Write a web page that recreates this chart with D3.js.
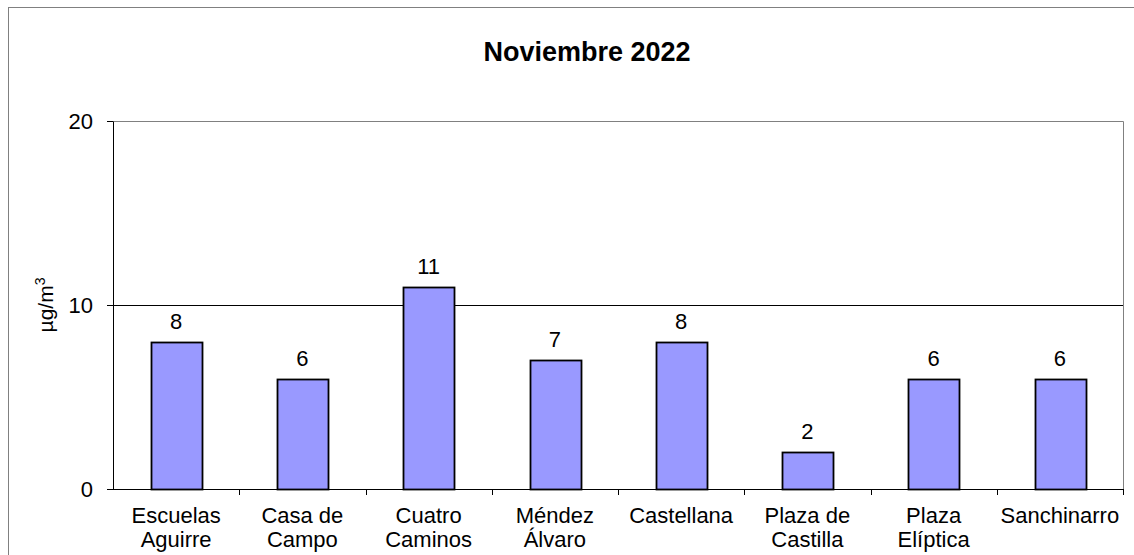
<!DOCTYPE html>
<html>
<head>
<style>
  body { margin: 0; background: #fff; }
  text { font-family: Arial, "Liberation Sans", sans-serif; fill: #000; }
</style>
</head>
<body>
<svg id="chart" width="1134" height="555"></svg>
<script src="https://d3js.org/d3.v7.min.js"></script>
<script>
  // data
  var stations = ["Escuelas Aguirre", "Casa de Campo", "Cuatro Caminos", "Méndez Álvaro",
                  "Castellana", "Plaza de Castilla", "Plaza Elíptica", "Sanchinarro"];
  var labelLines = [["Escuelas", "Aguirre"], ["Casa de", "Campo"], ["Cuatro", "Caminos"], ["Méndez", "Álvaro"],
                    ["Castellana"], ["Plaza de", "Castilla"], ["Plaza", "Elíptica"], ["Sanchinarro"]];
  var values = [8, 6, 11, 7, 8, 2, 6, 6];
  var yTicks = [0, 10, 20];

  var svg = d3.select("#chart");
  var margin = { top: 121, right: 11, bottom: 66, left: 113 };
  var width = 1134 - margin.left - margin.right,
      height = 555 - margin.top - margin.bottom;

  // outer frame
  svg.append("rect").attr("x", 8.5).attr("y", 7.5).attr("width", 1140).attr("height", 600)
     .attr("fill", "none").attr("stroke", "#808080").attr("stroke-width", 1);

  svg.append("text").attr("x", 587).attr("y", 61).attr("text-anchor", "middle")
     .style("font-size", "27px").style("font-weight", "bold").text("Noviembre 2022");

  var g = svg.append("g").attr("transform", "translate(" + margin.left + "," + margin.top + ")");

  var x = d3.scaleBand().domain(stations).range([0, width]).paddingInner(0.6).paddingOuter(0.3);
  var xb = d3.scaleBand().domain(stations).range([0, width]);
  var y = d3.scaleLinear().domain([0, 20]).range([height, 0]);

  // plot area border (top/right, gray)
  g.append("path").attr("d", "M0,0.5H" + (width + 0.5) + "V" + height)
   .attr("fill", "none").attr("stroke", "#808080");

  // gridline at 10
  g.append("line").attr("x1", 0).attr("x2", width).attr("y1", Math.round(y(10)) + 0.5).attr("y2", Math.round(y(10)) + 0.5)
   .attr("stroke", "#000");

  // bars
  g.selectAll(".bar").data(values).enter().append("rect")
   .attr("x", function (d, i) { return Math.round(x(stations[i])) + 0.5; })
   .attr("y", function (d) { return Math.round(y(d)) + 0.5; })
   .attr("width", Math.round(x.bandwidth()))
   .attr("height", function (d) { return Math.round(height - y(d)); })
   .attr("fill", "#9999ff").attr("stroke", "#000").attr("stroke-width", 1.8);

  g.selectAll(".val").data(values).enter().append("text")
   .attr("x", function (d, i) { return x(stations[i]) + x.bandwidth() / 2; })
   .attr("y", function (d) { return y(d) - 13; })
   .attr("text-anchor", "middle").style("font-size", "22px")
   .text(function (d) { return d; });

  // y axis
  var yAxis = g.append("g").call(d3.axisLeft(y).tickValues(yTicks).tickSize(6).tickSizeOuter(0).tickPadding(14));
  yAxis.select(".domain").attr("stroke", "#000");
  yAxis.selectAll("text").style("font-size", "22px").style("font-family", "Arial, 'Liberation Sans', sans-serif").attr("fill", "#000");
  yAxis.selectAll("line").attr("stroke", "#000");

  // x axis with ticks between categories
  var xg = g.append("g").attr("transform", "translate(0," + height + ")");
  xg.append("line").attr("x1", 0).attr("x2", width).attr("y1", 0.5).attr("y2", 0.5).attr("stroke", "#000");
  xg.selectAll(".tk").data(stations.slice(1).concat(["end"])).enter().append("line")
    .attr("x1", function (d, i) { return Math.round(xb.step() * (i + 1)) + 0.5; })
    .attr("x2", function (d, i) { return Math.round(xb.step() * (i + 1)) + 0.5; })
    .attr("y1", 0).attr("y2", 6).attr("stroke", "#000");
  xg.selectAll(".lbl").data(stations).enter().append("text")
    .attr("x", function (d) { return xb(d) + xb.bandwidth() / 2; })
    .attr("y", 34).attr("text-anchor", "middle").style("font-size", "22px")
    .each(function (d, i) {
      var t = d3.select(this);
      labelLines[i].forEach(function (ln, k) {
        t.append("tspan").attr("x", xb(d) + xb.bandwidth() / 2).attr("dy", k === 0 ? 0 : 24).text(ln);
      });
    });

  // y label
  var yl = svg.append("text").attr("transform", "translate(53," + (margin.top + y(10)) + ") rotate(-90)")
    .attr("text-anchor", "middle").style("font-size", "21px");
  yl.append("tspan").text("µg/m");
  yl.append("tspan").attr("dy", -8).style("font-size", "14px").text("3");
</script>
</body>
</html>
